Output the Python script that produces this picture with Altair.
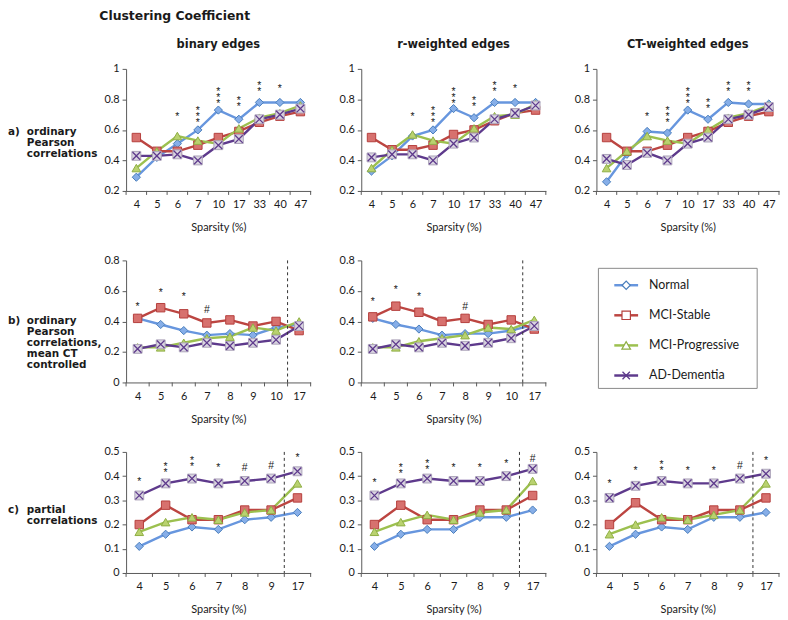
import json
import pandas as pd
import altair as alt

# ---------------- data ----------------
SERIES = ["Normal", "MCI-Stable", "MCI-Progressive", "AD-Dementia"]

TITLE = "Clustering Coefficient"
COL_TITLES = ["binary edges", "r-weighted edges", "CT-weighted edges"]
ROW_PREFIX = ["a)", "b)", "c)"]
ROW_TEXT = ["ordinary\nPearson\ncorrelations",
            "ordinary\nPearson\ncorrelations,\nmean CT\ncontrolled",
            "partial\ncorrelations"]
X_TITLE = "Sparsity (%)"

CATS_A = ["4", "5", "6", "7", "10", "17", "33", "40", "47"]
CATS_B = ["4", "5", "6", "7", "8", "9", "10", "17"]
CATS_C = ["4", "5", "6", "7", "8", "9", "17"]

YTICKS_A = [0.2, 0.4, 0.6, 0.8, 1]
YTICKS_B = [0, 0.2, 0.4, 0.6, 0.8]
YTICKS_C = [0, 0.1, 0.2, 0.3, 0.4, 0.5]

# row a) ordinary Pearson correlations
A1_NORMAL = [0.29, 0.42, 0.51, 0.60, 0.73, 0.67, 0.78, 0.78, 0.78]
A1_STABLE = [0.55, 0.46, 0.46, 0.50, 0.55, 0.59, 0.65, 0.69, 0.72]
A1_PROGR = [0.35, 0.46, 0.56, 0.53, 0.51, 0.61, 0.68, 0.71, 0.76]
A1_AD = [0.43, 0.43, 0.44, 0.40, 0.50, 0.54, 0.67, 0.70, 0.74]

A2_NORMAL = [0.33, 0.43, 0.56, 0.60, 0.74, 0.68, 0.78, 0.78, 0.78]
A2_STABLE = [0.55, 0.47, 0.47, 0.50, 0.57, 0.60, 0.66, 0.71, 0.73]
A2_PROGR = [0.35, 0.47, 0.57, 0.53, 0.51, 0.61, 0.69, 0.70, 0.77]
A2_AD = [0.42, 0.44, 0.44, 0.40, 0.51, 0.55, 0.67, 0.71, 0.76]

A3_NORMAL = [0.26, 0.44, 0.59, 0.58, 0.73, 0.67, 0.78, 0.77, 0.77]
A3_STABLE = [0.55, 0.46, 0.46, 0.50, 0.55, 0.59, 0.65, 0.69, 0.72]
A3_PROGR = [0.35, 0.46, 0.56, 0.53, 0.51, 0.60, 0.68, 0.71, 0.76]
A3_AD = [0.41, 0.37, 0.45, 0.40, 0.51, 0.55, 0.67, 0.70, 0.75]

# row b) mean CT controlled
B1_NORMAL = [0.42, 0.38, 0.34, 0.31, 0.32, 0.31, 0.36, 0.38]
B1_STABLE = [0.42, 0.49, 0.45, 0.39, 0.41, 0.37, 0.40, 0.34]
B1_PROGR = [0.23, 0.23, 0.26, 0.29, 0.30, 0.36, 0.34, 0.40]
B1_AD = [0.22, 0.25, 0.23, 0.26, 0.24, 0.26, 0.28, 0.37]

B2_NORMAL = [0.42, 0.38, 0.35, 0.31, 0.32, 0.32, 0.34, 0.38]
B2_STABLE = [0.43, 0.50, 0.46, 0.40, 0.42, 0.38, 0.41, 0.35]
B2_PROGR = [0.23, 0.23, 0.27, 0.29, 0.31, 0.36, 0.35, 0.41]
B2_AD = [0.22, 0.25, 0.23, 0.26, 0.24, 0.26, 0.29, 0.37]

# row c) partial correlations
C1_NORMAL = [0.11, 0.16, 0.19, 0.18, 0.22, 0.23, 0.25]
C1_STABLE = [0.20, 0.28, 0.22, 0.22, 0.26, 0.26, 0.31]
C1_PROGR = [0.17, 0.21, 0.23, 0.22, 0.25, 0.26, 0.37]
C1_AD = [0.32, 0.37, 0.39, 0.37, 0.38, 0.39, 0.42]

C2_NORMAL = [0.11, 0.16, 0.18, 0.18, 0.23, 0.23, 0.26]
C2_STABLE = [0.20, 0.28, 0.22, 0.22, 0.26, 0.26, 0.32]
C2_PROGR = [0.17, 0.21, 0.24, 0.22, 0.25, 0.26, 0.38]
C2_AD = [0.32, 0.37, 0.39, 0.38, 0.38, 0.40, 0.43]

C3_NORMAL = [0.11, 0.16, 0.19, 0.18, 0.23, 0.23, 0.25]
C3_STABLE = [0.20, 0.29, 0.22, 0.22, 0.26, 0.26, 0.31]
C3_PROGR = [0.16, 0.20, 0.23, 0.22, 0.24, 0.26, 0.37]
C3_AD = [0.31, 0.36, 0.38, 0.37, 0.37, 0.39, 0.41]

# significance marks (label, height in data units)
A1_SIG = ["", "", "*", "***", "***", "**", "**", "*", ""]
A1_SIG_Y = [None, None, 0.70, 0.735, 0.86, 0.80, 0.90, 0.88, None]
A2_SIG = ["", "", "*", "***", "***", "**", "**", "*", ""]
A2_SIG_Y = [None, None, 0.70, 0.735, 0.86, 0.80, 0.90, 0.88, None]
A3_SIG = ["", "", "*", "***", "***", "**", "**", "**", ""]
A3_SIG_Y = [None, None, 0.70, 0.735, 0.86, 0.79, 0.90, 0.90, None]
B1_SIG = ["*", "*", "*", "#", "", "", "", ""]
B1_SIG_Y = [0.51, 0.60, 0.57, 0.49, None, None, None, None]
B2_SIG = ["*", "*", "*", "", "#", "", "", ""]
B2_SIG_Y = [0.54, 0.62, 0.57, None, 0.51, None, None, None]
C1_SIG = ["*", "**", "**", "*", "#", "#", "*"]
C1_SIG_Y = [0.385, 0.447, 0.47, 0.44, 0.44, 0.45, 0.485]
C2_SIG = ["*", "**", "**", "*", "*", "*", "#"]
C2_SIG_Y = [0.38, 0.44, 0.46, 0.44, 0.44, 0.46, 0.48]
C3_SIG = ["*", "*", "**", "*", "*", "#", "*"]
C3_SIG_Y = [0.375, 0.43, 0.455, 0.43, 0.43, 0.45, 0.47]

# ---------------- style ----------------
LINE_COLORS = ["#6796DE", "#BC4541", "#9CC04F", "#5E3A8C"]
MARK_SHAPES = ["diamond", "square", "triangle-up", "square"]
MARK_FILLS = ["#86AEE8", "#D7716E", "#B9D26F", "#D9D4E0"]
MARK_STROKES = ["#4A7EBB", "#B5403D", "#8FAE45", "#ADA5BA"]
MARK_SIZES = [68, 80, 70, 78]
LEG_SIZES = [55, 70, 60, 70]
XPATH = "M -1 -1 L 1 1 M -1 1 L 1 -1"
AX = "#5a5a5a"
TXT = "#1a1a1a"
BOLD_FONT = "DejaVu Sans"
FONT = "Lato"


def data_panel(cats, values, sig, sig_y, ydom, yticks, W, H, col_title=None, dash_at=None):
    n = len(cats)
    xs = alt.Scale(domain=[0, n], nice=False, zero=False)
    ys = alt.Scale(domain=ydom, nice=False, zero=False)
    X = alt.X("pos:Q", scale=xs, axis=alt.Axis(
        values=[i + 0.5 for i in range(n)],
        labelExpr=json.dumps(cats) + "[floor(datum.value)]",
        ticks=False, tickSize=0, labelPadding=8, labelAngle=0,
        labelFlush=False, labelOverlap=False,
        title=X_TITLE, titlePadding=12))
    Y = alt.Y("value:Q", scale=ys, axis=alt.Axis(
        values=yticks, format="~g", tickSize=4, labelPadding=3,
        labelFlush=False, labelOverlap=False, title=None))

    rows = [{"series": s, "pos": i + 0.5, "value": v}
            for s, vals in zip(SERIES, values) for i, v in enumerate(vals)]
    df = pd.DataFrame(rows)
    base = alt.Chart(df)

    lines = base.mark_line(strokeWidth=2.4).encode(
        x=X, y=Y,
        color=alt.Color("series:N", scale=alt.Scale(domain=SERIES, range=LINE_COLORS), legend=None),
    )
    layers = [lines]

    tick_df = pd.DataFrame({"pos": list(range(n + 1))})
    layers.append(alt.Chart(tick_df).mark_rule(color=AX, strokeWidth=1).encode(
        x=X, y=alt.value(H), y2=alt.value(H + 4)))

    if dash_at is not None:
        layers.append(alt.Chart(pd.DataFrame({"pos": [dash_at]})).mark_rule(
            color="#333333", strokeWidth=1, strokeDash=[3, 3]).encode(
            x=X, y=alt.value(0), y2=alt.value(H)))

    markers = base.mark_point(filled=True, opacity=1, strokeWidth=1).encode(
        x=X, y=Y,
        shape=alt.Shape("series:N", scale=alt.Scale(domain=SERIES, range=MARK_SHAPES), legend=None),
        fill=alt.Fill("series:N", scale=alt.Scale(domain=SERIES, range=MARK_FILLS), legend=None),
        stroke=alt.Stroke("series:N", scale=alt.Scale(domain=SERIES, range=MARK_STROKES), legend=None),
        size=alt.Size("series:N", scale=alt.Scale(domain=SERIES, range=MARK_SIZES), legend=None),
    )
    layers.append(markers)
    xmarks = base.transform_filter(alt.datum.series == SERIES[3]).mark_point(
        shape=XPATH, filled=False, stroke=LINE_COLORS[3], strokeWidth=1.3, size=60, opacity=1
    ).encode(x=X, y=Y)
    layers.append(xmarks)

    sig_rows = [{"pos": i + 0.5, "value": y, "sig": "\n".join(list(s))}
                for i, (s, y) in enumerate(zip(sig, sig_y)) if s]
    layers.append(alt.Chart(pd.DataFrame(sig_rows)).mark_text(
        font="Liberation Sans", fontSize=10.5, lineBreak="\n", lineHeight=6,
        baseline="middle", align="center", dy=2, color=TXT).encode(
        x=X, y=Y, text="sig:N"))

    if col_title:
        layers.append(alt.Chart(pd.DataFrame({"t": [col_title]})).mark_text(
            font=BOLD_FONT, fontWeight="bold", fontSize=11.5, color=TXT,
            baseline="middle", align="center").encode(
            text="t:N", x=alt.value(W / 2), y=alt.value(-24)))

    return alt.layer(*layers).properties(width=W, height=H)


def label_cell(prefix, text, ytop, H, title=None):
    d = alt.Chart(pd.DataFrame({"p": [prefix], "t": [text]}))
    common = dict(font=BOLD_FONT, fontWeight="bold", fontSize=10.5, color=TXT,
                  align="left", baseline="top")
    pre = d.mark_text(**common).encode(text="p:N", x=alt.value(0), y=alt.value(ytop))
    body = d.mark_text(lineBreak="\n", lineHeight=11, **common).encode(
        text="t:N", x=alt.value(19), y=alt.value(ytop))
    layers = [pre, body]
    if title:
        layers.append(alt.Chart(pd.DataFrame({"t": [title]})).mark_text(
            font=BOLD_FONT, fontWeight="bold", fontSize=12.5, color=TXT,
            align="left", baseline="top").encode(
            text="t:N", x=alt.value(92), y=alt.value(-59)))
    return alt.layer(*layers).properties(width=68, height=H)


def legend_cell(W, H):
    leg = pd.DataFrame({"series": SERIES})
    Yl = alt.Y("series:N", scale=alt.Scale(type="point", domain=SERIES, range=[25, 116], padding=0), axis=None)
    box = alt.Chart(pd.DataFrame({"k": [0]})).mark_rect(
        fill="white", stroke="#8a8a8a", strokeWidth=1).encode(
        x=alt.value(2), x2=alt.value(162), y=alt.value(8), y2=alt.value(129))
    seg = alt.Chart(leg).mark_rule(strokeWidth=2.5).encode(
        x=alt.value(18), x2=alt.value(42), y=Yl,
        color=alt.Color("series:N", scale=alt.Scale(domain=SERIES, range=LINE_COLORS), legend=None))
    sym = alt.Chart(leg).transform_filter(alt.datum.series != SERIES[3]).mark_point(
        filled=True, fill="white", opacity=1, strokeWidth=1.2).encode(
        x=alt.value(30), y=Yl,
        shape=alt.Shape("series:N", scale=alt.Scale(domain=SERIES, range=MARK_SHAPES), legend=None),
        stroke=alt.Stroke("series:N", scale=alt.Scale(domain=SERIES, range=LINE_COLORS), legend=None),
        size=alt.Size("series:N", scale=alt.Scale(domain=SERIES, range=LEG_SIZES), legend=None))
    xsym = alt.Chart(leg).transform_filter(alt.datum.series == SERIES[3]).mark_point(
        shape=XPATH, filled=False, stroke=LINE_COLORS[3], strokeWidth=1.3, size=55, opacity=1).encode(
        x=alt.value(30), y=Yl)
    txt = alt.Chart(leg).mark_text(font=FONT, fontSize=12.5, color=TXT, align="left", baseline="middle").encode(
        x=alt.value(53), y=Yl, text="series:N")
    return alt.layer(box, seg, sym, xsym, txt).properties(width=W, height=H)


HA, HB, HC = 123, 123, 122
W1, W2, W3 = 186, 186, 184

cells = [
    label_cell(ROW_PREFIX[0], ROW_TEXT[0], 59, HA, title=TITLE),
    data_panel(CATS_A, [A1_NORMAL, A1_STABLE, A1_PROGR, A1_AD], A1_SIG, A1_SIG_Y, [0.2, 1], YTICKS_A, W1, HA, COL_TITLES[0]),
    data_panel(CATS_A, [A2_NORMAL, A2_STABLE, A2_PROGR, A2_AD], A2_SIG, A2_SIG_Y, [0.2, 1], YTICKS_A, W2, HA, COL_TITLES[1]),
    data_panel(CATS_A, [A3_NORMAL, A3_STABLE, A3_PROGR, A3_AD], A3_SIG, A3_SIG_Y, [0.2, 1], YTICKS_A, W3, HA, COL_TITLES[2]),
    label_cell(ROW_PREFIX[1], ROW_TEXT[1], 56, HB),
    data_panel(CATS_B, [B1_NORMAL, B1_STABLE, B1_PROGR, B1_AD], B1_SIG, B1_SIG_Y, [0, 0.8], YTICKS_B, W1, HB, dash_at=7),
    data_panel(CATS_B, [B2_NORMAL, B2_STABLE, B2_PROGR, B2_AD], B2_SIG, B2_SIG_Y, [0, 0.8], YTICKS_B, W2, HB, dash_at=7),
    legend_cell(W3, HB),
    label_cell(ROW_PREFIX[2], ROW_TEXT[2], 54, HC),
    data_panel(CATS_C, [C1_NORMAL, C1_STABLE, C1_PROGR, C1_AD], C1_SIG, C1_SIG_Y, [0, 0.5], YTICKS_C, W1, HC, dash_at=6),
    data_panel(CATS_C, [C2_NORMAL, C2_STABLE, C2_PROGR, C2_AD], C2_SIG, C2_SIG_Y, [0, 0.5], YTICKS_C, W2, HC, dash_at=6),
    data_panel(CATS_C, [C3_NORMAL, C3_STABLE, C3_PROGR, C3_AD], C3_SIG, C3_SIG_Y, [0, 0.5], YTICKS_C, W3, HC, dash_at=6),
]

chart = alt.concat(*cells, columns=4, spacing={"row": 70, "column": 51}, bounds="flush").properties(
    padding=0
).configure_view(stroke=None).configure_axis(
    labelFont=FONT, labelFontSize=11, labelColor=TXT,
    titleFont=FONT, titleFontSize=11, titleFontWeight="normal", titleColor=TXT,
    domainColor=AX, tickColor=AX, grid=False,
)

chart.save("out.html", embed_options={"renderer": "svg", "actions": False})
